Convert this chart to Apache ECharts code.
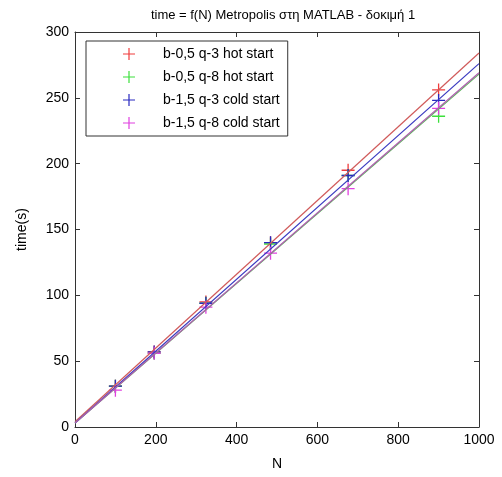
<!DOCTYPE html>
<html>
<head>
<meta charset="utf-8">
<script src="https://cdn.jsdelivr.net/npm/echarts@6/dist/echarts.min.js"></script>
<style>
  html, body { margin: 0; padding: 0; background: #fff; }
</style>
</head>
<body>
<div id="chart" style="width: 502px; height: 477px"></div>
<script>
// N values of the runs
const nValues = [100, 196, 324, 484, 676, 900];

// measured times (s)
const redTimes = [31, 57, 95, 140, 195, 256];
const greenTimes = [31, 56, 94, 139, 191, 236];
const blueTimes = [31, 57, 94, 140, 191, 248];
const magentaTimes = [28, 56, 91, 132, 181, 242];

// fitted lines, value at N = 0 and N = 1000
const fitN = [0, 1000];
const redFit = [4, 284];
const greenFit = [3, 268];
const blueFit = [3, 276];
const magentaFit = [3, 269];

const names = [
  "b-0,5 q-3 hot start",
  "b-0,5 q-8 hot start",
  "b-1,5 q-3 cold start",
  "b-1,5 q-8 cold start",
];
const colors = ["#f03c3c", "#3ce03c", "#2828c0", "#e040e0"];
const lineColors = ["#d05a5a", "#5cb25c", "#3a3ac0", "#b060b0"];

const times = [redTimes, greenTimes, blueTimes, magentaTimes];
const fits = [redFit, greenFit, blueFit, magentaFit];

// plus sign marker
const plus = "path://M5.4,0H6.6V5.4H12V6.6H6.6V12H5.4V6.6H0V5.4H5.4Z";

const font = "Liberation Sans, Arial, sans-serif";

let series = [];
for (let i = 0; i < 4; i++) {
  series.push({
    name: names[i] + " fit",
    type: "line",
    symbol: "none",
    silent: true,
    lineStyle: { color: lineColors[i], width: 1.2 },
    data: fitN.map((n, j) => [n, fits[i][j]]),
  });
}
for (let i = 0; i < 4; i++) {
  series.push({
    name: names[i],
    type: "scatter",
    symbol: plus,
    symbolSize: 13,
    itemStyle: { color: colors[i], opacity: 1 },
    data: nValues.map((n, j) => [n, times[i][j]]),
  });
}

const chart = echarts.init(document.getElementById("chart"));

const axisLine = { show: true, onZero: false, lineStyle: { color: "#333", width: 1 } };
const tick = { show: true, inside: true, length: 5, lineStyle: { color: "#333" } };
const label = { fontFamily: font, fontSize: 14, color: "#000", margin: 6 };

chart.setOption({
  animation: false,
  title: {
    text: "time = f(N) Metropolis στη MATLAB - δοκιμή 1",
    left: 278,
    top: 4,
    textAlign: "center",
    textStyle: { fontFamily: font, fontSize: 13, fontWeight: "normal", color: "#000" },
  },
  grid: { left: 75, right: 23, top: 32, bottom: 50 },
  legend: {
    data: names,
    orient: "vertical",
    left: 86,
    top: 41,
    padding: [6, 8, 6, 37],
    itemWidth: 12,
    itemHeight: 12,
    itemGap: 9,
    backgroundColor: "#fff",
    borderColor: "#333",
    borderWidth: 1,
    borderRadius: 0,
    textStyle: { fontFamily: font, fontSize: 14, color: "#000", padding: [0, 0, 0, 23] },
  },
  xAxis: [
    {
      type: "value",
      min: 0,
      max: 1000,
      interval: 200,
      name: "N",
      nameLocation: "middle",
      nameGap: 30,
      nameTextStyle: { fontFamily: font, fontSize: 14, color: "#000" },
      axisLine: axisLine,
      axisTick: tick,
      splitLine: { show: false },
      axisLabel: Object.assign({}, label, { formatter: (v) => String(v) }),
    },
    {
      type: "value",
      position: "top",
      min: 0,
      max: 1000,
      interval: 200,
      axisLine: axisLine,
      axisTick: tick,
      splitLine: { show: false },
      axisLabel: { show: false },
    },
  ],
  yAxis: [
    {
      type: "value",
      min: 0,
      max: 300,
      interval: 50,
      name: "time(s)",
      nameLocation: "middle",
      nameGap: 46,
      nameTextStyle: { fontFamily: font, fontSize: 14, color: "#000" },
      axisLine: axisLine,
      axisTick: tick,
      splitLine: { show: false },
      axisLabel: Object.assign({}, label, { formatter: (v) => String(v) }),
    },
    {
      type: "value",
      position: "right",
      min: 0,
      max: 300,
      interval: 50,
      axisLine: axisLine,
      axisTick: tick,
      splitLine: { show: false },
      axisLabel: { show: false },
    },
  ],
  series: series,
});
</script>
</body>
</html>
